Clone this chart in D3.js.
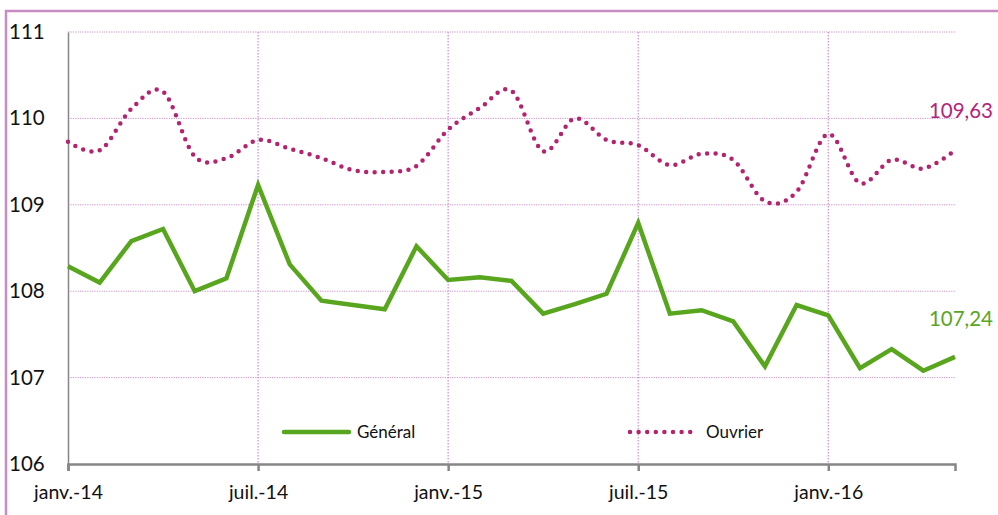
<!DOCTYPE html>
<html><head><meta charset="utf-8">
<script src="https://cdn.jsdelivr.net/npm/d3@7"></script>
<style>body{margin:0;background:#fff}svg{display:block}text{font-family:Lato,"Open Sans",sans-serif}</style>
</head><body>
<script>
const months = ["janv.-14","févr.-14","mars-14","avr.-14","mai-14","juin-14","juil.-14","août-14","sept.-14","oct.-14","nov.-14","déc.-14",
"janv.-15","févr.-15","mars-15","avr.-15","mai-15","juin-15","juil.-15","août-15","sept.-15","oct.-15","nov.-15","déc.-15",
"janv.-16","févr.-16","mars-16","avr.-16","mai-16"];
const general = [108.29,108.10,108.58,108.72,108.00,108.15,109.23,108.31,107.89,107.84,107.79,108.52,
108.13,108.16,108.12,107.74,107.85,107.97,108.79,107.74,107.78,107.65,107.13,107.84,
107.72,107.11,107.33,107.08,107.24];
const ouvrier = [109.73,109.63,110.11,110.31,109.56,109.54,109.75,109.65,109.54,109.40,109.38,109.45,
109.87,110.12,110.32,109.62,110.00,109.75,109.69,109.46,109.59,109.52,109.04,109.15,
109.82,109.25,109.52,109.42,109.63];
const yTicks = [106,107,108,109,110,111];
const xTickIdx = [0,6,12,18,24];
const seriesNames = ["Général","Ouvrier"];
const lastLabels = ["107,24","109,63"];

const W=998,H=515;
const svg=d3.select("body").append("svg").attr("width",W).attr("height",H);
const green="#58a51e", purple="#b3246f", grid="#d28ed2";
// frame
svg.append("path").attr("d","M6,520 L6,11 L1000,11").attr("fill","none").attr("stroke","#c98bc4").attr("stroke-width",2.5);

const x=d3.scaleLinear().domain([0,28]).range([68,955]);
const y=d3.scaleLinear().domain([106,111]).range([464,32]);

// horizontal grid
svg.append("g").selectAll("line").data(yTicks.filter(d=>d>106)).join("line")
  .attr("x1",68).attr("x2",955).attr("y1",d=>y(d)).attr("y2",d=>y(d))
  .attr("stroke",grid).attr("stroke-width",1).attr("stroke-dasharray","1.2,1.2");
// vertical grid
svg.append("g").selectAll("line").data(xTickIdx.filter(d=>d>0)).join("line")
  .attr("x1",d=>x(d)).attr("x2",d=>x(d)).attr("y1",32).attr("y2",464)
  .attr("stroke",grid).attr("stroke-width",1.2).attr("stroke-dasharray","1.5,1.5");

// axes
const yAxis=d3.axisLeft(y).tickValues(yTicks).tickSize(0).tickPadding(18).tickFormat(d3.format("d"));
const gy=svg.append("g").attr("transform","translate(68,0)").call(yAxis);
gy.select(".domain").attr("stroke","#868686").attr("stroke-width",1.5);
gy.selectAll("text").attr("font-size",20.5).attr("fill","#111").attr("text-anchor","start").attr("x",-59);

const xAxis=d3.axisBottom(x).tickValues(xTickIdx).tickSize(7).tickFormat(i=>months[i]).tickPadding(14);
const gx=svg.append("g").attr("transform","translate(0,464)").call(xAxis);
gx.select(".domain").attr("stroke","#868686").attr("stroke-width",2.5);
gx.selectAll("line").attr("stroke","#868686").attr("stroke-width",2.5);
gx.selectAll("text").attr("font-size",19.5).attr("fill","#111");

// lines
const lineG=d3.line().x((d,i)=>x(i)).y(d=>y(d));
svg.append("path").datum(general).attr("d",lineG).attr("fill","none").attr("stroke",green).attr("stroke-width",4.5).attr("stroke-linejoin","miter");
const lineO=d3.line().x((d,i)=>x(i)).y(d=>y(d)).curve(d3.curveCardinal.tension(0));
svg.append("path").datum(ouvrier).attr("d",lineO).attr("fill","none").attr("stroke",purple).attr("stroke-width",4.5).attr("stroke-linecap","round").attr("stroke-dasharray","0,8.5");

// end labels
svg.append("text").attr("x",993).attr("y",y(general[28])-31).attr("text-anchor","end").attr("font-size",20.5).attr("fill",green).text(lastLabels[0]);
svg.append("text").attr("x",993).attr("y",y(ouvrier[28])-32).attr("text-anchor","end").attr("font-size",20.5).attr("fill","#b3247a").text(lastLabels[1]);

// legend
const lg=svg.append("g");
lg.append("line").attr("x1",284).attr("x2",349).attr("y1",432).attr("y2",432).attr("stroke",green).attr("stroke-width",4.5).attr("stroke-linecap","round");
lg.append("text").attr("x",357).attr("y",438).attr("font-size",17).attr("fill","#111").text(seriesNames[0]);
lg.append("line").attr("x1",630).attr("x2",691).attr("y1",432).attr("y2",432).attr("stroke",purple).attr("stroke-width",4.5).attr("stroke-linecap","round").attr("stroke-dasharray","0,8.6");
lg.append("text").attr("x",706).attr("y",438).attr("font-size",17).attr("fill","#111").text(seriesNames[1]);
</script>
</body></html>
